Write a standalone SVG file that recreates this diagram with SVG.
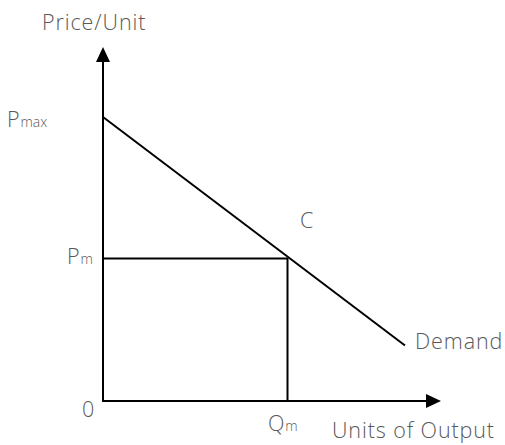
<svg xmlns="http://www.w3.org/2000/svg" width="505" height="445" viewBox="0 0 505 445">
<style>
text{font-family:"Open Sans","Liberation Sans",sans-serif;fill:#595959;font-size:21.5px;font-weight:300;letter-spacing:0.9px}
.sub{font-size:14px;letter-spacing:0}
.ln{stroke:#000;stroke-width:2;fill:none}
</style>
<rect width="505" height="445" fill="#fff"/>
<g id="connectors">
<path class="ln" d="M103,401 V62"/>
<path d="M96,62 L103,47 L110,62 z" fill="#000"/>
<path class="ln" d="M102,401 H426"/>
<path d="M426,394 L441,401 L426,408 z" fill="#000"/>
<path class="ln" d="M103,117 L405,345.5"/>
<path class="ln" d="M103,258.5 H287.5 V401"/>
</g>
<g id="axis-y-label"><text x="42" y="30">Price/Unit</text></g>
<g id="pmax"><text x="7" y="127">P<tspan class="sub">max</tspan></text></g>
<g id="pm"><text x="67" y="264">P<tspan class="sub">m</tspan></text></g>
<g id="c"><text x="300" y="228">C</text></g>
<g id="demand"><text x="415" y="349">Demand</text></g>
<g id="origin"><text x="82" y="417">0</text></g>
<g id="qm"><text x="268" y="431">Q<tspan class="sub">m</tspan></text></g>
<g id="axis-x-label"><text x="332" y="438">Units of Output</text></g>
</svg>
